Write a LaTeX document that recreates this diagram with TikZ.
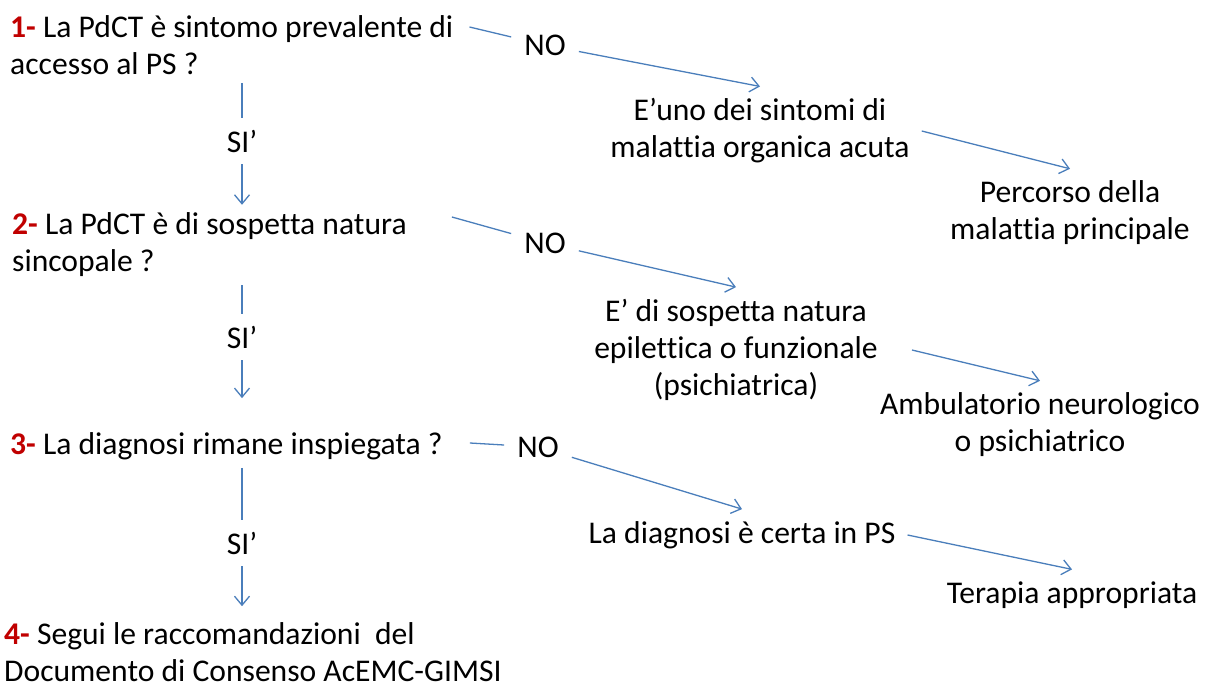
\documentclass[tikz,border=0pt]{standalone}
\usepackage{fontspec}
\setmainfont[Ligatures=NoCommon]{Carlito}
\usetikzlibrary{arrows.meta}
\definecolor{flowblue}{HTML}{4A7EBB}
\definecolor{stepred}{HTML}{C00000}
\newcommand{\stepnum}[1]{\textcolor{stepred}{\textbf{#1}}}

\begin{document}
\begin{tikzpicture}[>={Straight Barb[length=9pt,width=15pt]}, x=1pt, y=-1pt,
        font=\fontsize{31.6}{37}\selectfont,
        flow/.style={draw=flowblue, line width=1.3pt}]
    \useasboundingbox (0,0) rectangle (1208,687);
    % domande a sinistra
    \begin{scope}[every node/.style={align=left, anchor=west, inner sep=8pt}]
        \node (q1) at (2, 45) {\stepnum{1-} La PdCT è sintomo prevalente di\\accesso al PS ?};
        \node (q2) at (4, 245) {\stepnum{2-} La PdCT è di sospetta natura\\sincopale ?};
        \node (q3) at (2, 446) {\stepnum{3-} La diagnosi rimane inspiegata ?};
        \node (q4) at (-4, 652) {\stepnum{4-} Segui le raccomandazioni~ del\\Documento di Consenso AcEMC-GIMSI};
    \end{scope}
    \begin{scope}[every node/.style={align=center, inner sep=12pt}]
        \node (si1) at (242, 141) {SI’};
        \node (si2) at (242, 337) {SI’};
        \node (si3) at (242, 543) {SI’};
        \node[inner sep=13pt] (no1) at (545, 45) {NO};
        \node[inner sep=13pt] (no2) at (545, 243) {NO};
        \node[inner sep=13pt] (no3) at (538, 447) {NO};
        \node (c1) at (760, 131) {E’uno dei sintomi di\\malattia organica acuta};
        \node (c2) at (736, 350) {E’ di sospetta natura\\epilettica o funzionale\\(psichiatrica)};
        \node (c3) at (742, 535) {La diagnosi è certa in PS};
        \node (r1) at (1070, 213) {Percorso della\\malattia principale};
        \node (r2) at (1040, 425) {Ambulatorio neurologico\\o psichiatrico};
        \node (r3) at (1072, 595) {Terapia appropriata};
    \end{scope}

    % risposte SI'
    \draw[flow] (q1.south -| si1) -- (si1);
    \draw[flow,->] (si1) -- (q2.north -| si1);
    \draw[flow] (q2.south -| si2) -- (si2);
    \draw[flow,->,shorten >=26pt] (si2) -- (q3.north -| si2);
    \draw[flow] (q3.south -| si3) -- (si3);
    \draw[flow,->,shorten >=8pt] (si3) -- (q4.north -| si3);

    % risposte NO
    \draw[flow] ([shift={(8,-18)}]q1.east) -- (no1);
    \draw[flow] ([shift={(37,-28)}]q2.east) -- (no2);
    \draw[flow] ([shift={(19,-3)}]q3.east) -- (no3);
    \draw[flow,->] (no1) -- (c1.north);
    \draw[flow,->] (no2) -- (c2.north);
    \draw[flow,->] (no3) -- (c3.north);
    \draw[flow,->] (c1.east) -- (r1.north);
    \draw[flow,->] ([xshift=22pt]c2.east) -- (r2.north);
    \draw[flow,->] (c3.east) -- (r3.north);
\end{tikzpicture}
\end{document}
